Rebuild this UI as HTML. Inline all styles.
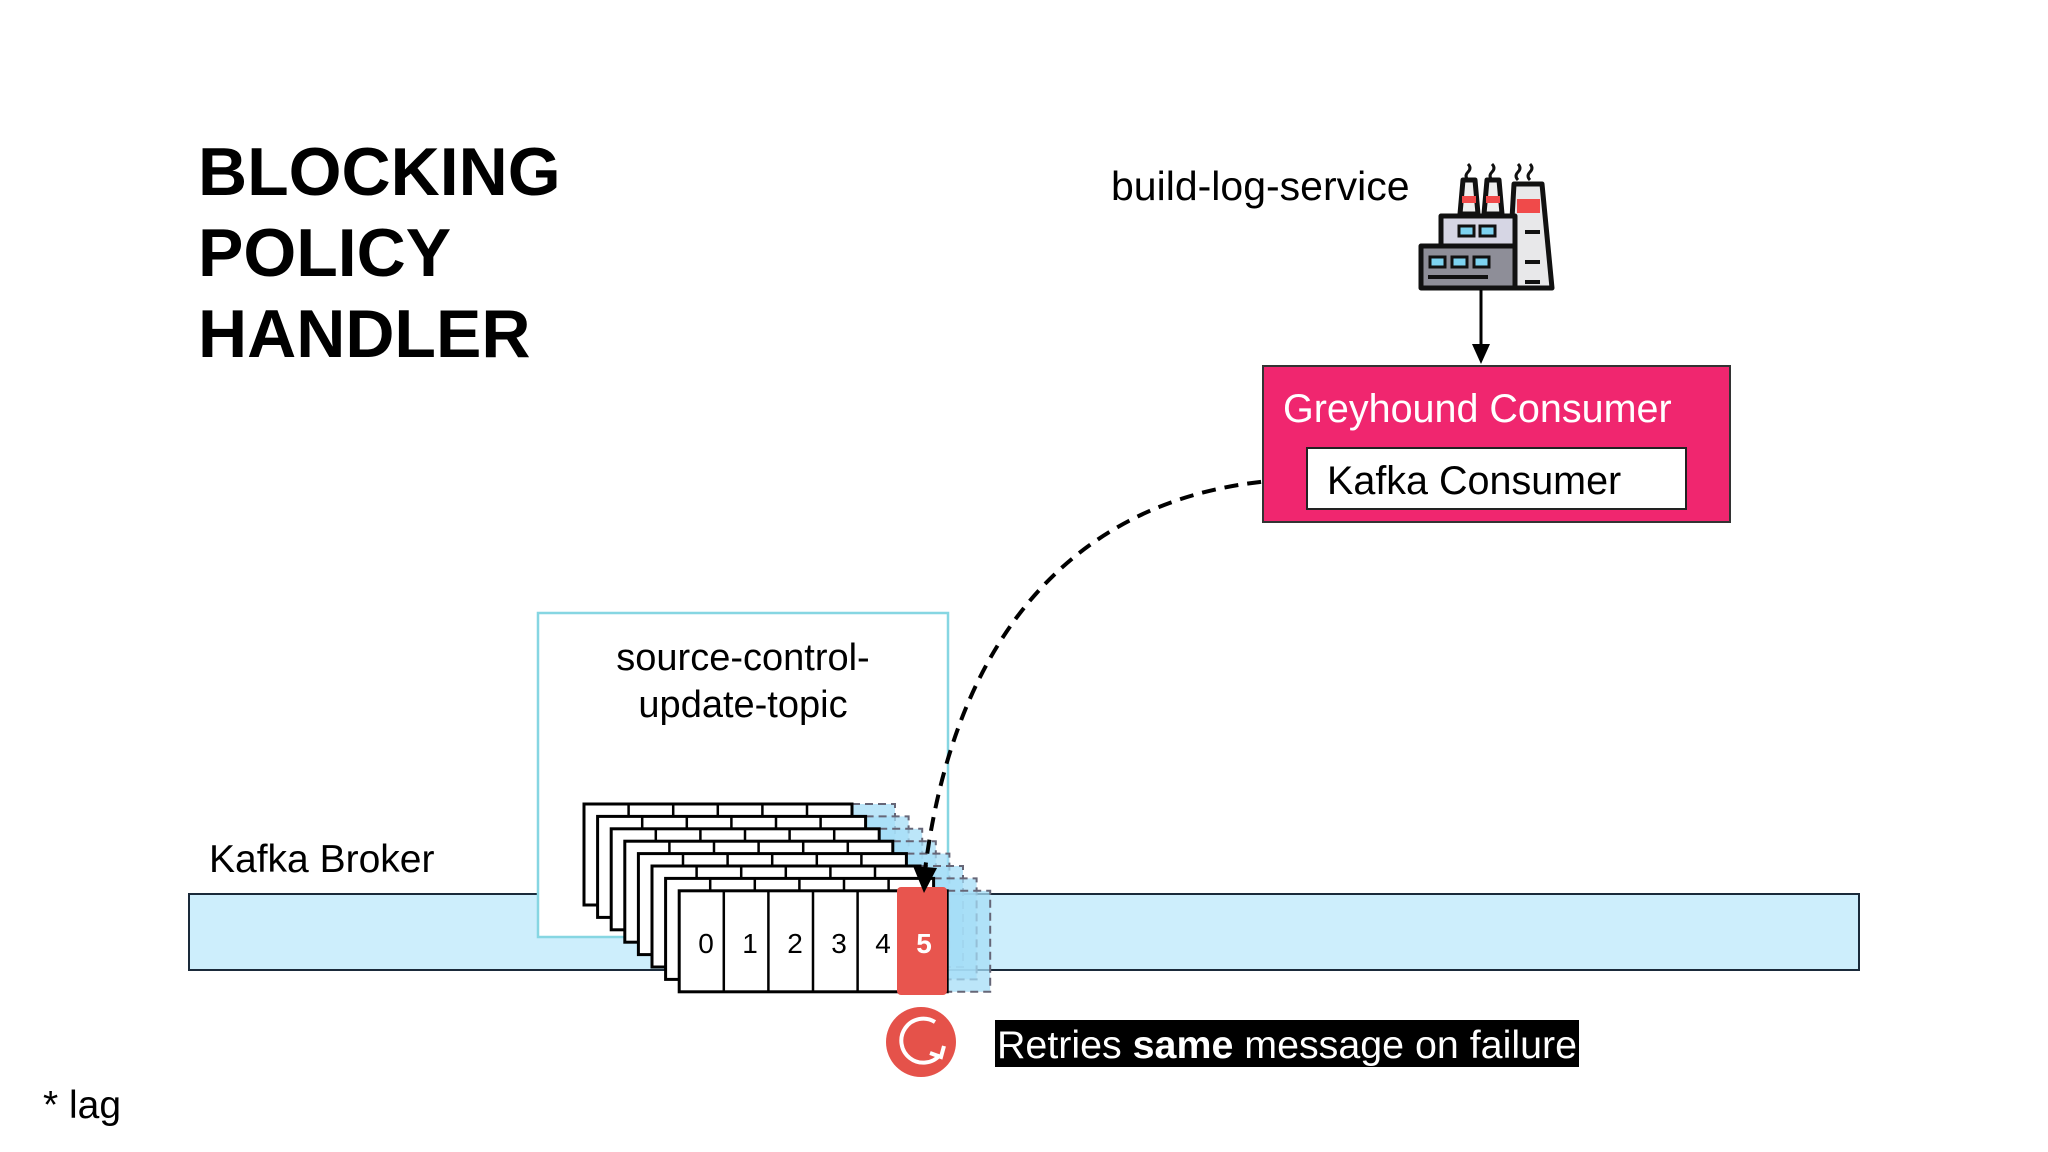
<!DOCTYPE html>
<html><head><meta charset="utf-8"><style>
html,body{margin:0;padding:0;background:#fff}
svg{display:block}
text{font-family:"Liberation Sans",Arial,sans-serif}
</style></head><body>
<svg width="2048" height="1152" viewBox="0 0 2048 1152" xmlns="http://www.w3.org/2000/svg">
<defs>
<g id="layer">
  <rect x="268" y="0" width="43" height="101" fill="#a6def7" fill-opacity="0.75" stroke="#667" stroke-width="2" stroke-dasharray="8,5"/>
  <rect x="0" y="0" width="268" height="101" fill="#fff" stroke="#000" stroke-width="3"/>
  <path d="M44.6,0V101M89.2,0V101M133.8,0V101M178.4,0V101M223,0V101" stroke="#000" stroke-width="2.5"/>
</g>
</defs>

<g font-weight="bold" font-size="68" fill="#000">
<text x="198" y="195">BLOCKING</text>
<text x="198" y="276">POLICY</text>
<text x="198" y="357">HANDLER</text>
</g>

<rect x="189" y="894" width="1670" height="76" fill="#cdeefc" stroke="#1a2a3a" stroke-width="2"/>
<text x="209" y="872" font-size="39">Kafka Broker</text>

<rect x="538" y="613" width="410" height="324" fill="#fff" stroke="#86d6e2" stroke-width="2.5"/>
<text x="743" y="670" font-size="38" text-anchor="middle">source-control-</text>
<text x="743" y="717" font-size="38" text-anchor="middle">update-topic</text>

<use href="#layer" x="584" y="804"/>
<use href="#layer" x="597.6" y="816.4"/>
<use href="#layer" x="611.2" y="828.8"/>
<use href="#layer" x="624.8" y="841.2"/>
<use href="#layer" x="638.4" y="853.6"/>
<use href="#layer" x="652" y="866"/>
<use href="#layer" x="665.6" y="878.4"/>
<use href="#layer" x="679.2" y="890.8"/>
<rect x="897" y="887" width="50" height="108" rx="4" fill="#e8554e"/>
<g font-size="28" text-anchor="middle">
<text x="706" y="953">0</text>
<text x="750" y="953">1</text>
<text x="795" y="953">2</text>
<text x="839" y="953">3</text>
<text x="883" y="953">4</text>
<text x="924" y="953" fill="#fff" font-weight="bold">5</text>
</g>

<path d="M1307,479 C1100,482 958,610 925,870" fill="none" stroke="#000" stroke-width="4" stroke-dasharray="14,9"/>
<polygon points="913,866 937,868 924,893" fill="#000"/>

<rect x="1263" y="366" width="467" height="156" fill="#f0266f" stroke="#333" stroke-width="2"/>
<text x="1283" y="422" font-size="39.5" fill="#fff">Greyhound Consumer</text>
<rect x="1307" y="448" width="379" height="61" fill="#fff" stroke="#222" stroke-width="2"/>
<text x="1327" y="494" font-size="39.5">Kafka Consumer</text>

<text x="1111" y="200" font-size="41">build-log-service</text>
<g stroke="#111" stroke-width="5" stroke-linejoin="round">
  <path d="M1463,180 h12 l3,34 h-18 z" fill="#eee"/>
  <path d="M1487,180 h12 l3,34 h-18 z" fill="#eee"/>
  <path d="M1514,184 h28 l10,104 h-44 z" fill="#e8e8ea"/>
  <rect x="1517" y="199" width="23" height="14" fill="#f04a4a" stroke="none"/>
  <rect x="1462" y="196" width="14" height="7" fill="#f04a4a" stroke="none"/>
  <rect x="1486" y="196" width="14" height="7" fill="#f04a4a" stroke="none"/>
  <rect x="1441" y="216" width="74" height="32" fill="#d6d6e4"/>
  <rect x="1421" y="246" width="94" height="42" fill="#8e8e98"/>
</g>
<g fill="#7dd3f0" stroke="#111" stroke-width="3">
  <rect x="1459" y="226" width="15" height="10"/><rect x="1480" y="226" width="15" height="10"/>
  <rect x="1430" y="257" width="15" height="10"/><rect x="1452" y="257" width="15" height="10"/><rect x="1474" y="257" width="15" height="10"/>
</g>
<path d="M1428,277h60M1525,232h15M1525,262h15M1525,282h15" stroke="#111" stroke-width="4"/>
<g fill="none" stroke="#111" stroke-width="3">
<path d="M1468,164 q4,4 0,8 q-4,4 0,8M1492,164 q4,4 0,8 q-4,4 0,8M1518,164 q4,4 0,8 q-4,4 0,8M1530,164 q4,4 0,8 q-4,4 0,8"/>
</g>
<line x1="1481" y1="290" x2="1481" y2="348" stroke="#000" stroke-width="3"/>
<polygon points="1472,344 1490,344 1481,364" fill="#000"/>

<circle cx="921" cy="1042" r="35" fill="#e5524a"/>
<path d="M935,1022 A22,22 0 1 0 940,1055" fill="none" stroke="#fff" stroke-width="4"/>
<polyline points="930,1053 941,1057 944,1046" fill="none" stroke="#fff" stroke-width="4"/>
<rect x="995" y="1020" width="584" height="47" fill="#000"/>
<text x="997" y="1058" font-size="39" fill="#fff" textLength="580" lengthAdjust="spacingAndGlyphs">Retries <tspan font-weight="bold">same</tspan> message on failure</text>

<text x="43" y="1118" font-size="39">* lag</text>
</svg>
</body></html>
